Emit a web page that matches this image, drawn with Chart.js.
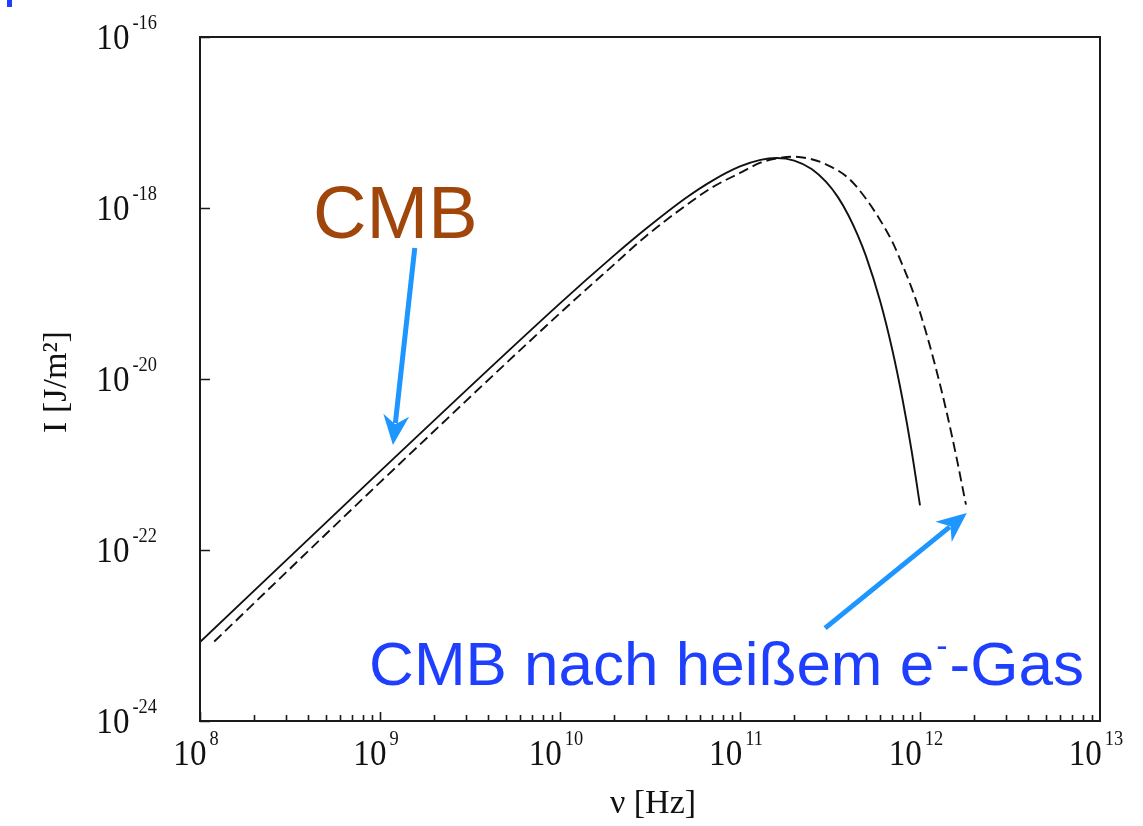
<!DOCTYPE html>
<html>
<head>
<meta charset="utf-8">
<title>CMB Spektrum</title>
<script src="https://cdn.jsdelivr.net/npm/chart.js@4.4.1/dist/chart.umd.min.js"></script>
<style>
  html, body { margin: 0; padding: 0; background: #fff; }
  #wrap { position: relative; width: 1143px; height: 826px; }
</style>
</head>
<body>
<div id="wrap"><canvas id="spectrum" width="1143" height="826"></canvas></div>
<script>
// ═══════════════════════════════════════════════════════════════════
// DATA  (frequency in Hz, intensity in J/m^2)
// ═══════════════════════════════════════════════════════════════════

// CMB, solid line
const nuCMB = [1e8, 1e9, 1e10, 2e10, 3e10, 5e10, 7e10, 1e11, 1.3e11, 1.6e11, 2e11,
               2.5e11, 3e11, 3.5e11, 4e11, 4.5e11, 5e11, 6e11, 7e11, 8e11, 9e11, 1e12];
const iCMB  = [8.37e-24, 8.30e-22, 7.66e-20, 2.79e-19, 5.71e-19, 1.31e-18, 2.08e-18,
               3.06e-18, 3.66e-18, 3.84e-18, 3.59e-18, 2.86e-18, 2.03e-18, 1.34e-18,
               8.24e-19, 4.86e-19, 2.77e-19, 8.22e-20, 2.24e-20, 5.75e-21, 1.41e-21, 3.32e-22];

// CMB after hot electron gas, dashed line
const nuSZ = [1.2e8, 1e9, 1e10, 2e10, 3e10, 5e10, 7e10, 1e11, 1.3e11, 1.6e11, 2e11,
              2.5e11, 3e11, 4e11, 5e11, 6e11, 7e11, 8e11, 9e11, 1e12,
              1.2e12, 1.4e12, 1.6e12, 1.8e12];
const iSZ  = [8.51e-24, 6.17e-22, 5.89e-20, 2.19e-19, 4.68e-19, 1.07e-18, 1.74e-18,
              2.57e-18, 3.39e-18, 3.80e-18, 3.98e-18, 3.72e-18, 3.24e-18, 2.24e-18,
              1.29e-18, 7.24e-19, 4.07e-19, 2.14e-19, 1.15e-19, 6.03e-20,
              1.58e-20, 4.27e-21, 1.17e-21, 3.39e-22];

// tick labels (powers of ten)
const xTickExp = [8, 9, 10, 11, 12, 13];
const yTickExp = [-16, -18, -20, -22, -24];

// annotation anchors, in data coordinates [nu, I]
const cmbArrow = [[1.56e9, 3.4e-19], [1.18e9, 1.69e-21]];
const szArrow  = [[2.97e11, 1.22e-23], [1.82e12, 2.71e-22]];
const cmbLabelAt = [4.25e8, 4.46e-19];
const szLabelAt  = [8.7e8, 2.64e-24];

// ═══════════════════════════════════════════════════════════════════
// DRAW HELPERS
// ═══════════════════════════════════════════════════════════════════

const SERIF = "'Liberation Serif', 'DejaVu Serif', serif";
const SANS = "'Liberation Sans', Arial, sans-serif";
const SX = 0.92; // tick labels in the figure are a bit condensed

function drawPower(ctx, exp, x, y, align) {
    // "10" with a raised exponent; y is the baseline of "10"
    ctx.font = '36px ' + SERIF;
    const wb = ctx.measureText('10').width * SX;
    ctx.font = '20px ' + SERIF;
    const we = ctx.measureText(String(exp)).width * SX;
    const total = wb + 3 + we;
    const left = align === 'center' ? x - total / 2 : x - total;
    ctx.save();
    ctx.translate(left, y);
    ctx.scale(SX, 1);
    ctx.textAlign = 'left';
    ctx.textBaseline = 'alphabetic';
    ctx.font = '36px ' + SERIF;
    ctx.fillText('10', 0, 0);
    ctx.font = '20px ' + SERIF;
    ctx.fillText(String(exp), (wb + 3) / SX, -20);
    ctx.restore();
}

function drawArrow(ctx, x1, y1, x2, y2) {
    const ang = Math.atan2(y2 - y1, x2 - x1);
    const head = 30, half = 13;
    const bx = x2 - Math.cos(ang) * head, by = y2 - Math.sin(ang) * head;
    ctx.save();
    ctx.strokeStyle = '#1e96ff';
    ctx.fillStyle = '#1e96ff';
    ctx.lineWidth = 5;
    ctx.lineCap = 'butt';
    ctx.beginPath();
    ctx.moveTo(x1, y1);
    ctx.lineTo(bx + Math.cos(ang) * 8, by + Math.sin(ang) * 8);
    ctx.stroke();
    ctx.beginPath();
    ctx.moveTo(x2, y2);
    ctx.lineTo(bx - Math.sin(ang) * half, by + Math.cos(ang) * half);
    ctx.lineTo(bx + Math.cos(ang) * 9, by + Math.sin(ang) * 9);
    ctx.lineTo(bx + Math.sin(ang) * half, by - Math.cos(ang) * half);
    ctx.closePath();
    ctx.fill();
    ctx.restore();
}

const figurePlugin = {
    id: 'figure',
    afterDatasetsDraw(chart) {
        const ctx = chart.ctx;
        const a = chart.chartArea;
        const xs = chart.scales.x, ys = chart.scales.y;
        const px = (p) => [xs.getPixelForValue(p[0]), ys.getPixelForValue(p[1])];

        ctx.save();

        // frame
        ctx.strokeStyle = '#1a1a1a';
        ctx.lineWidth = 2;
        ctx.strokeRect(a.left, a.top, a.right - a.left, a.bottom - a.top);

        // inward ticks
        ctx.lineWidth = 1.6;
        ctx.beginPath();
        for (let i = 0; i < xTickExp.length - 1; i++) {
            for (let m = 1; m < 10; m++) {
                const x = Math.round(xs.getPixelForValue(m * Math.pow(10, xTickExp[i]))) + 0.5;
                const len = m === 1 ? 9 : 6;
                ctx.moveTo(x, a.bottom);
                ctx.lineTo(x, a.bottom - len);
            }
        }
        yTickExp.forEach(function (e) {
            const y = Math.round(ys.getPixelForValue(Math.pow(10, e))) + 0.5;
            ctx.moveTo(a.left, y);
            ctx.lineTo(a.left + 10, y);
        });
        ctx.stroke();

        // tick labels
        ctx.fillStyle = '#111';
        xTickExp.forEach(function (e) {
            drawPower(ctx, e, xs.getPixelForValue(Math.pow(10, e)) - 4, a.bottom + 44, 'center');
        });
        yTickExp.forEach(function (e) {
            drawPower(ctx, e, a.left - 43, ys.getPixelForValue(Math.pow(10, e)) + 12, 'right');
        });

        // axis titles
        ctx.font = '34px ' + SERIF;
        ctx.textAlign = 'center';
        ctx.textBaseline = 'alphabetic';
        ctx.fillText('ν [Hz]', (a.left + a.right) / 2 + 3, 813);
        ctx.save();
        ctx.translate(57, 382);
        ctx.rotate(-Math.PI / 2);
        ctx.textBaseline = 'middle';
        ctx.fillText('I [J/m²]', 0, 0);
        ctx.restore();

        // annotations
        const c1 = px(cmbArrow[0]), c2 = px(cmbArrow[1]);
        drawArrow(ctx, c1[0], c1[1], c2[0], c2[1]);
        const s1 = px(szArrow[0]), s2 = px(szArrow[1]);
        drawArrow(ctx, s1[0], s1[1], s2[0], s2[1]);

        ctx.textAlign = 'left';
        ctx.textBaseline = 'alphabetic';
        const cl = px(cmbLabelAt);
        ctx.fillStyle = '#a0460a';
        ctx.font = '74px ' + SANS;
        ctx.fillText('CMB', cl[0], cl[1]);

        const sl = px(szLabelAt);
        ctx.fillStyle = '#1f3fff';
        ctx.font = '62px ' + SANS;
        const part1 = 'CMB nach heißem e';
        ctx.fillText(part1, sl[0], sl[1]);
        let x = sl[0] + ctx.measureText(part1).width + 2;
        ctx.font = '34px ' + SANS;
        ctx.fillText('-', x, sl[1] - 28);
        x += ctx.measureText('-').width + 2;
        ctx.font = '62px ' + SANS;
        ctx.fillText('-Gas', x, sl[1]);

        // small blue remnant in the top-left corner
        ctx.fillStyle = '#1f3fff';
        ctx.fillRect(7, 0, 5, 7);

        ctx.restore();
    }
};

// ═══════════════════════════════════════════════════════════════════
// CHART
// ═══════════════════════════════════════════════════════════════════

function toPoints(xs, ys) {
    return xs.map(function (v, i) { return { x: v, y: ys[i] }; });
}

const hiddenAxis = {
    ticks: { display: false },
    grid: { display: false, drawTicks: false },
    border: { display: false },
    title: { display: false }
};

new Chart(document.getElementById('spectrum'), {
    type: 'line',
    data: {
        datasets: [
            {
                label: 'CMB',
                data: toPoints(nuCMB, iCMB),
                borderColor: '#111',
                borderWidth: 1.9,
                pointRadius: 0,
                cubicInterpolationMode: 'monotone'
            },
            {
                label: 'CMB nach heißem e⁻-Gas',
                data: toPoints(nuSZ, iSZ),
                borderColor: '#111',
                borderWidth: 1.9,
                borderDash: [10, 5],
                pointRadius: 0,
                cubicInterpolationMode: 'monotone'
            }
        ]
    },
    options: {
        responsive: false,
        animation: false,
        layout: { padding: { left: 200, top: 37, right: 43, bottom: 105 } },
        plugins: { legend: { display: false }, tooltip: { enabled: false } },
        scales: {
            x: Object.assign({ type: 'logarithmic', min: 1e8, max: 1e13 }, hiddenAxis),
            y: Object.assign({ type: 'logarithmic', min: 1e-24, max: 1e-16 }, hiddenAxis)
        }
    },
    plugins: [figurePlugin]
});
</script>
</body>
</html>
